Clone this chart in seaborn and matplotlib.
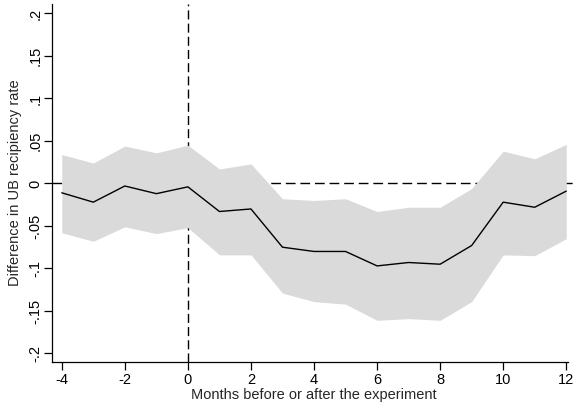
import matplotlib
matplotlib.use("Agg")
import matplotlib.pyplot as plt
import seaborn as sns
import pandas as pd

months = [-4, -3, -2, -1, 0, 1, 2, 3, 4, 5, 6, 7, 8, 9, 10, 11, 12]
estimate = [-0.011, -0.022, -0.003, -0.012, -0.004, -0.033, -0.030, -0.075,
            -0.080, -0.080, -0.097, -0.093, -0.095, -0.073, -0.022, -0.028, -0.009]
upper_ci = [0.034, 0.024, 0.044, 0.036, 0.045, 0.017, 0.023, -0.018,
            -0.020, -0.018, -0.033, -0.028, -0.028, -0.006, 0.038, 0.029, 0.046]
lower_ci = [-0.058, -0.068, -0.051, -0.059, -0.052, -0.084, -0.084, -0.129,
            -0.139, -0.142, -0.161, -0.159, -0.161, -0.139, -0.084, -0.085, -0.065]
x_ticks = [-4, -2, 0, 2, 4, 6, 8, 10, 12]
y_ticks = [-0.2, -0.15, -0.1, -0.05, 0, 0.05, 0.1, 0.15, 0.2]
y_tick_labels = ["-.2", "-.15", "-.1", "-.05", "0", ".05", ".1", ".15", ".2"]

df = pd.DataFrame({"month": months, "est": estimate, "hi": upper_ci, "lo": lower_ci})

sns.set_style("white")
plt.rcParams["font.family"] = ["Liberation Sans", "DejaVu Sans"]

fig = plt.figure(figsize=(5.8, 4.09), dpi=100)
ax = fig.add_axes([0.0902, 0.115, 0.9008, 0.875])

ax.axhline(0, color="black", lw=1.0, ls=(0, (7, 3.5)), zorder=1)
ax.axvline(0, color="black", lw=1.0, ls=(0, (6.5, 3)), zorder=1)
ax.fill_between(df["month"], df["lo"], df["hi"], color="#dadada", lw=0, zorder=2)
sns.lineplot(data=df, x="month", y="est", color="black", lw=1.0, ax=ax, zorder=3)

ax.set_xlim(-4.3, 12.27)
ax.set_ylim(-0.21, 0.211)
ax.set_xticks(x_ticks)
ax.set_xticklabels([str(t) for t in x_ticks])
ax.set_yticks(y_ticks)
ax.set_yticklabels(y_tick_labels, rotation=90, va="center")

for s in ["top", "right"]:
    ax.spines[s].set_visible(False)
for s in ["left", "bottom"]:
    ax.spines[s].set_color("black")
    ax.spines[s].set_linewidth(0.9)
ax.spines["bottom"].set_bounds(-4.3, 12.05)

ax.tick_params(axis="both", direction="out", length=5.5, width=0.9, colors="black",
               labelsize=10.5, left=True, bottom=True, pad=2.5)
ax.tick_params(axis="y", pad=1.5)
ax.set_xlabel("Months before or after the experiment", fontsize=10.5, labelpad=1)
ax.set_ylabel("Difference in UB recipiency rate", fontsize=10.5, labelpad=5)

fig.savefig("out.png", dpi=100)
